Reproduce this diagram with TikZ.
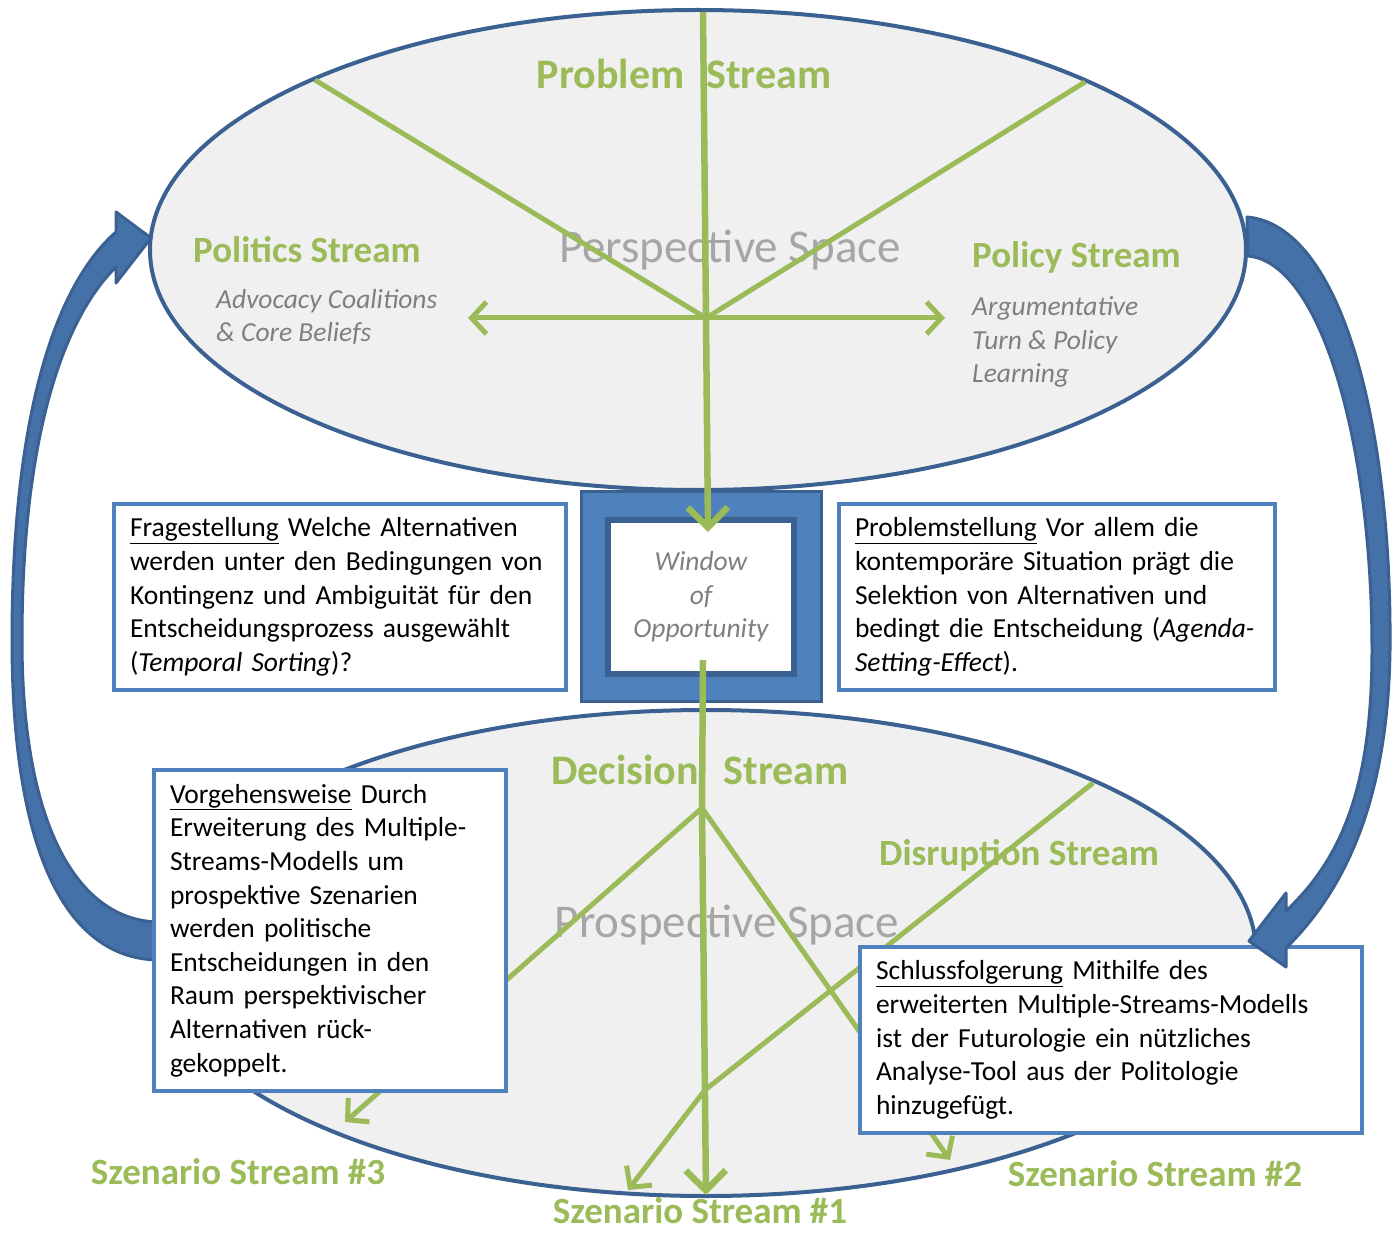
\documentclass[tikz,border=0pt]{standalone}
\usepackage{fontspec}
\setmainfont{Carlito}
\usetikzlibrary{arrows.meta,shapes,positioning}
\definecolor{streamgreen}{HTML}{9BBB59}
\definecolor{boxblue}{HTML}{4F81BD}
\definecolor{darkblue}{HTML}{3A6192}
\definecolor{bandblue}{HTML}{4571A9}
\definecolor{ellfill}{HTML}{F0F0F0}
\definecolor{spacegray}{HTML}{A6A6A6}
\definecolor{notegray}{HTML}{7F7F7F}
\tikzstyle{strm}=[font=\fontsize{37}{40}\selectfont\bfseries, text=streamgreen, inner sep=0pt]
\tikzstyle{bigstrm}=[strm, font=\fontsize{42}{44}\selectfont\bfseries]
\tikzstyle{spacelbl}=[font=\fontsize{47}{52}\selectfont, text=spacegray, inner sep=0pt]
\tikzstyle{note}=[font=\fontsize{27.5}{33.6}\selectfont\itshape, text=notegray, align=left, inner sep=0pt]
\tikzstyle{txtbox}=[draw=boxblue, line width=4pt, fill=white, align=left, inner xsep=16pt,
               font=\fontsize{27.5}{33.6}\selectfont]
\tikzstyle{space ellipse}=[ellipse, draw=darkblue, line width=4pt, fill=ellfill]
\tikzstyle{flow}=[draw=streamgreen, line width=5pt]
\tikzstyle{flowarr}=[flow, -{Straight Barb[length=15pt,width=32pt]}]
\tikzstyle{mainflow}=[flow, line width=6.5pt, -{Straight Barb[length=20pt,width=40pt]}]
\tikzstyle{band}=[fill=bandblue, draw=darkblue, line width=3pt, line join=round]

\begin{document}
\begin{tikzpicture}[x=1pt,y=-1pt]
\useasboundingbox (0,0) rectangle (1393,1233);

% the two spaces
\node[space ellipse, minimum width=1096pt, minimum height=480pt] (persp) at (698,250) {};
\node[space ellipse, minimum width=1100pt, minimum height=486pt] (prosp) at (706,953) {};
\node[spacelbl] (perspl) at (730,250) {Perspective Space};
\node[spacelbl] (prospl) at (727,925) {Prospective Space};

% stream labels
\node[bigstrm] (problem) at (684,74) {Problem\hspace{22pt}Stream};
\node[strm, anchor=west] (politics) at (193,250) {Politics Stream};
\node[strm, anchor=west] (policy) at (972,257) {Policy Stream};
\node[note, anchor=west] (advocacy) at (216,317) {Advocacy Coalitions\\\& Core Beliefs};
\node[note, anchor=west] (argument) at (972,342) {Argumentative\\Turn \& Policy\\Learning};
\node[bigstrm] (decision) at (700,770) {Decision\hspace{25pt}Stream};
\node[strm, anchor=west] (disruption) at (879,855) {Disruption Stream};
\node[strm] (szen3) at (238,1172) {Szenario Stream \#3};
\node[strm] (szen1) at (700,1211) {Szenario Stream \#1};
\node[strm] (szen2) at (1155,1174) {Szenario Stream \#2};

% window of opportunity
\node[draw=darkblue, fill=boxblue, line width=3pt, minimum width=240pt, minimum height=210pt] (winout) at (701.5,596.5) {};
\node[draw=darkblue, fill=white, line width=6pt, minimum width=186pt, minimum height=154pt, note, align=center] (win) at (701,597) {Window\\of\\Opportunity};

% stream lines
\coordinate (ptop) at (703,12);
\coordinate (hub) at (706,318);
\coordinate (pul) at (315,80);
\coordinate (pur) at (1085,82);
\coordinate (pl) at (468,318);
\coordinate (pr) at (945,318);
\coordinate (wtop) at (708,532);
\coordinate (wbot) at (703,660);
\coordinate (fork) at (702,808);
\coordinate (s1) at (706,1195);
\coordinate (s3) at (345,1122);
\coordinate (s2) at (950,1160);
\coordinate (dtop) at (1093,783);
\coordinate (dmid) at (705,1090);
\coordinate (dend) at (628,1190);

\draw[flow] (pul) -- (hub);
\draw[flow] (pur) -- (hub);
\draw[flowarr] (hub) -- (pl);
\draw[flowarr] (hub) -- (pr);
\draw[mainflow] (ptop) -- (hub) -- (wtop);
\draw[mainflow] (wbot) -- (fork) -- (s1);
\draw[flowarr] (fork) -- (s3);
\draw[flowarr] (fork) -- (s2);
\draw[flowarr] (dtop) -- (dmid) -- (dend);

% feedback arrow, left
\draw[band] (160,960) .. controls (70,960) and (12,860) .. (12,640)
  .. controls (12,430) and (50,290) .. (116,232) -- (116,212) -- (151,238) -- (116,283) -- (116,267)
  .. controls (62,320) and (22,440) .. (22,640) .. controls (22,830) and (80,922) .. (160,922) -- cycle;

% text boxes
\node[txtbox, text width=420pt, minimum height=186pt] (frage) at (340,597)
  {\underline{Fragestellung} Welche Alternativen\\werden unter den Bedingungen von\\Kontingenz und Ambiguität für den\\Entscheidungsprozess ausgewählt\\(\textit{Temporal Sorting})?};
\node[txtbox, text width=404pt, minimum height=186pt] (probst) at (1057,597)
  {\underline{Problemstellung} Vor allem die\\kontemporäre Situation prägt die\\Selektion von Alternativen und\\bedingt die Entscheidung (\textit{Agenda-}\\\textit{Setting-Effect}).};
\node[txtbox, text width=320pt, minimum height=321pt] (vorgehen) at (330,930.5)
  {\underline{Vorgehensweise} Durch\\Erweiterung des Multiple-\\Streams-Modells um\\prospektive Szenarien\\werden politische\\Entscheidungen in den\\Raum perspektivischer\\Alternativen rück-\\gekoppelt.};
\node[txtbox, text width=470pt, minimum height=186pt] (schluss) at (1111,1040)
  {\underline{Schlussfolgerung} Mithilfe des\\erweiterten Multiple-Streams-Modells\\ist der Futurologie ein nützliches\\Analyse-Tool aus der Politologie\\hinzugefügt.};

% feedback arrow, right
\draw[band] (1247,217) .. controls (1340,225) and (1392,420) .. (1390,650)
  .. controls (1388,800) and (1345,890) .. (1286,948) -- (1286,967) -- (1249,941) -- (1286,893) -- (1286,911)
  .. controls (1340,860) and (1372,790) .. (1372,650) .. controls (1372,440) and (1320,262) .. (1248,256) -- cycle;
\end{tikzpicture}
\end{document}
